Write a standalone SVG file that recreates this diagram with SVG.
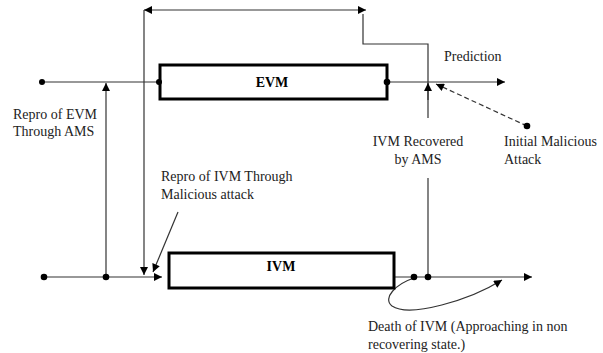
<svg xmlns="http://www.w3.org/2000/svg" width="603" height="353" viewBox="0 0 603 353">
  <style>
    .ln { fill: none; stroke: #333; stroke-width: 1.2; }
    .dash { stroke-dasharray: 5 3; }
    .box { fill: #fff; stroke: #000; stroke-width: 3; }
    .dot { fill: #000; }
    .lbl { font-family: "Liberation Serif", "Times New Roman", serif; font-size: 14px; fill: #222; }
    .name { font-family: "Liberation Serif", "Times New Roman", serif; font-size: 14px; font-weight: bold; fill: #000; text-anchor: middle; }
  </style>
  <defs>
    <marker id="arr" viewBox="0 0 10 10" refX="10" refY="5" markerWidth="9" markerHeight="8" markerUnits="userSpaceOnUse" orient="auto-start-reverse">
      <path d="M0,0 L10,5 L0,10 Z" fill="#000"/>
    </marker>
  </defs>

  <g id="connectors">
    <!-- EVM time line -->
    <line class="ln" x1="42" y1="82" x2="159" y2="82"/>
    <line class="ln" x1="387" y1="82" x2="505" y2="82" marker-end="url(#arr)"/>
    <!-- IVM time line -->
    <line class="ln" x1="44" y1="277" x2="162" y2="277" marker-end="url(#arr)"/>
    <line class="ln" x1="395" y1="277" x2="532" y2="277" marker-end="url(#arr)"/>
    <!-- Repro of EVM through AMS -->
    <line class="ln" x1="106" y1="277" x2="106" y2="83" marker-end="url(#arr)"/>
    <!-- feedback loop over the top -->
    <line class="ln" x1="144" y1="10" x2="144" y2="275" marker-end="url(#arr)"/>
    <line class="ln" x1="144" y1="10" x2="366" y2="10" marker-start="url(#arr)" marker-end="url(#arr)"/>
    <polyline class="ln" points="428,118 428,44 363,44 363,14"/>
    <line class="ln" x1="428" y1="100" x2="428" y2="83" marker-end="url(#arr)"/>
    <line class="ln" x1="428" y1="277" x2="428" y2="178"/>
    <!-- initial malicious attack -->
    <line class="ln dash" x1="527" y1="126" x2="436" y2="84" marker-end="url(#arr)"/>
    <!-- repro of IVM through malicious attack -->
    <line class="ln" x1="178" y1="212" x2="153" y2="272" marker-end="url(#arr)"/>
    <!-- death of IVM -->
    <path class="ln" d="M414,278 C396,284 382,298 392,306 C410,318 470,300 502,280" marker-end="url(#arr)"/>
  </g>

  <g id="evm">
    <rect class="box" x="160" y="65" width="227" height="34"/>
    <text class="name" x="272" y="87">EVM</text>
  </g>

  <g id="ivm">
    <rect class="box" x="169" y="253" width="225" height="35"/>
    <text class="name" x="281" y="271">IVM</text>
  </g>

  <g id="dots">
    <circle class="dot" cx="42" cy="82" r="3"/>
    <circle class="dot" cx="159" cy="82" r="3"/>
    <circle class="dot" cx="387" cy="82" r="3.3"/>
    <circle class="dot" cx="527" cy="126" r="3.3"/>
    <circle class="dot" cx="44" cy="277" r="3.3"/>
    <circle class="dot" cx="106" cy="277" r="3.3"/>
    <circle class="dot" cx="414" cy="277" r="3.3"/>
    <circle class="dot" cx="428" cy="277" r="3.3"/>
  </g>

  <g id="labels">
    <text class="lbl" x="444" y="61">Prediction</text>
    <text class="lbl" x="13" y="119">Repro of EVM</text>
    <text class="lbl" x="13" y="136">Through AMS</text>
    <text class="lbl" x="161" y="181">Repro of IVM Through</text>
    <text class="lbl" x="161" y="199">Malicious attack</text>
    <text class="lbl" x="418" y="146" text-anchor="middle">IVM Recovered</text>
    <text class="lbl" x="418" y="164" text-anchor="middle">by AMS</text>
    <text class="lbl" x="504" y="146">Initial Malicious</text>
    <text class="lbl" x="504" y="164">Attack</text>
    <text class="lbl" x="368" y="331">Death of IVM (Approaching in non</text>
    <text class="lbl" x="368" y="349">recovering state.)</text>
  </g>
</svg>
